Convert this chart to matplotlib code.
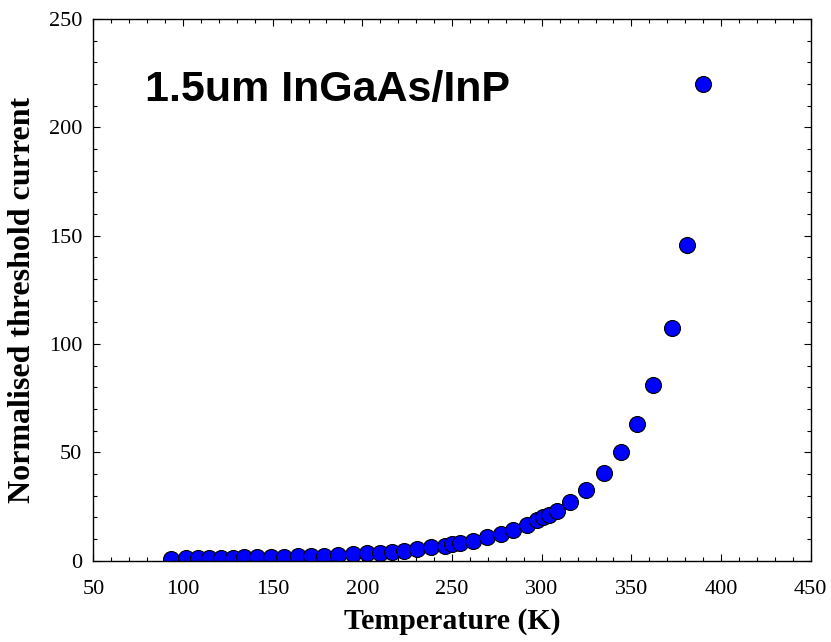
import matplotlib
matplotlib.use("Agg")
import matplotlib.pyplot as plt
from matplotlib.ticker import MultipleLocator

# temperature (K) and normalised threshold current
temperature = [93.3, 101.7, 108.2, 114.7, 121.2, 127.7, 134.0, 141.4, 148.9, 156.5,
               164.0, 171.4, 178.8, 186.4, 195.0, 202.4, 209.9, 216.4, 223.1, 230.5,
               238.3, 246.1, 250.2, 254.3, 261.5, 269.3, 277.3, 284.2, 292.0, 297.2,
               300.9, 304.3, 308.4, 315.8, 324.7, 334.6, 344.1, 353.2, 362.0, 372.6,
               381.1, 389.7]
threshold = [1.0, 1.1, 1.15, 1.2, 1.3, 1.4, 1.5, 1.6, 1.8, 1.9,
             2.1, 2.3, 2.4, 2.6, 3.0, 3.4, 3.7, 4.2, 4.6, 5.4,
             6.2, 6.9, 7.7, 8.3, 9.2, 10.8, 12.4, 14.2, 16.5, 18.8,
             20.3, 21.1, 22.9, 27.0, 32.6, 40.3, 50.0, 63.2, 81.1, 107.4,
             145.6, 219.9]

title = "1.5um InGaAs/InP"
x_label = "Temperature (K)"
y_label = "Normalised threshold current"

plt.rcParams['font.family'] = ['Liberation Serif', 'DejaVu Serif']

fig = plt.figure(figsize=(8.31, 6.42), dpi=100)
ax = fig.add_axes([0.1123, 0.1266, 0.8633, 0.8438])

ax.plot(temperature, threshold, linestyle='none', marker='o', markersize=11.5,
        markerfacecolor='#0000ff', markeredgecolor='black', markeredgewidth=0.8)

ax.set_xlim(50, 450)
ax.set_ylim(0, 250)
ax.xaxis.set_major_locator(MultipleLocator(50))
ax.xaxis.set_minor_locator(MultipleLocator(10))
ax.yaxis.set_major_locator(MultipleLocator(50))
ax.yaxis.set_minor_locator(MultipleLocator(10))

ax.tick_params(which='both', direction='in', top=True, right=True, labelsize=16)
ax.tick_params(axis='x', which='major', pad=14)
ax.tick_params(axis='y', which='major', pad=8)
ax.tick_params(which='major', length=5, width=0.8)
ax.tick_params(which='minor', length=3, width=0.8)
for s in ax.spines.values():
    s.set_linewidth(1.0)

ax.set_xlabel(x_label, fontsize=21.5, fontweight='bold', labelpad=6)
ax.set_ylabel(y_label, fontsize=23, fontweight='bold')
ax.yaxis.set_label_coords(-0.078, 0.482)

ax.text(78.8, 212, title, fontsize=31, fontweight='bold',
        family=['Liberation Sans', 'DejaVu Sans'], ha='left', va='baseline')

fig.savefig("out.png", dpi=100)
